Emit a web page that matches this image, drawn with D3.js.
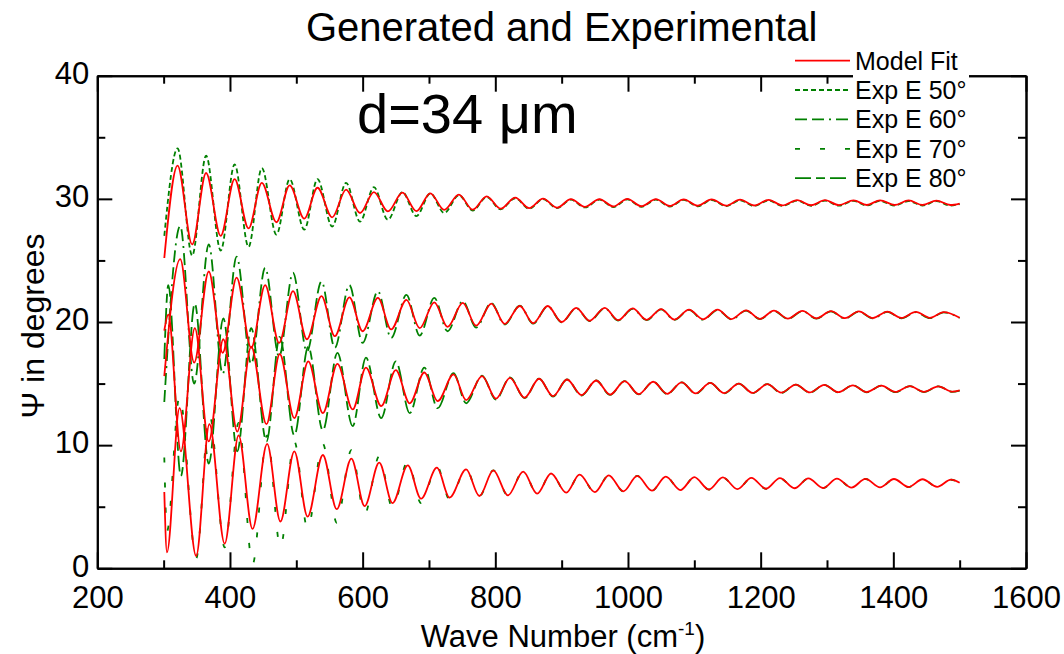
<!DOCTYPE html>
<html><head><meta charset="utf-8">
<script src="https://cdn.jsdelivr.net/npm/d3@7"></script>
<style>
body{margin:0;background:#fff}
svg{display:block}
text{font-family:"Liberation Sans",Arial,Helvetica,sans-serif;fill:#000}
</style>
</head><body>
<svg id="chart" width="1064" height="654"></svg>
<script>
// ---------- data (extrema) ----------
const xMajorTicks = [200,400,600,800,1000,1200,1400,1600];
const xMinorTicks = [300,500,700,900,1100,1300,1500];
const yMajorTicks = [0,10,20,30,40];
const yMinorTicks = [5,15,25,35];
const seriesNames = ["Model Fit","Exp E 50°","Exp E 60°","Exp E 70°","Exp E 80°"];

// Curve A (top, Exp E 50°)
const waveA = [301,321,343,364,386,407,428,448,470,490,512,532,554,575,596,617,638,660,681,702,723,745,766,787,808,830,851,872,893,914,935,957,978,999,1020,1042,1063,1084,1105,1126,1148,1169,1190,1212,1233,1255,1276,1297,1318,1340,1360,1380,1402,1423,1444,1465,1486,1500];
const modelA = [25.2,32.7,26.3,32.1,27.0,31.6,27.6,31.3,28.1,31.1,28.4,30.9,28.5,30.75,28.85,30.55,28.98,30.5,29.0,30.45,29.1,30.35,29.12,30.2,29.2,30.1,29.25,30.02,29.28,29.97,29.35,29.98,29.38,30.0,29.4,29.98,29.42,29.96,29.44,29.95,29.45,29.93,29.46,29.92,29.47,29.9,29.48,29.9,29.49,29.88,29.5,29.88,29.5,29.87,29.5,29.86,29.5,29.62];
const expA = [27.0,34.1,25.4,33.5,25.8,32.8,26.1,32.5,27.1,31.6,27.5,31.6,27.75,31.3,28.15,30.95,28.3,30.55,28.6,30.45,28.85,30.3,29.05,30.15,29.15,30.05,29.2,29.98,29.25,29.93,29.3,29.93,29.33,29.95,29.36,29.93,29.38,29.91,29.4,29.9,29.41,29.88,29.42,29.87,29.43,29.85,29.44,29.85,29.45,29.83,29.46,29.83,29.46,29.82,29.46,29.81,29.46,29.58];

// Curve B (second, Exp E 60°)
const waveB = [301,325,346,368,389,410,432,453,474,495,516,538,558,580,600,623,643,666,686,708,728,751,771,794,814,837,857,879,900,922,942,965,985,1007,1028,1050,1070,1092,1113,1135,1156,1178,1199,1220,1241,1263,1284,1306,1327,1348,1369,1391,1412,1434,1455,1476,1500];
const modelB = [15.6,25.1,16.7,24.1,17.5,23.6,17.9,23.0,18.3,22.5,18.6,22.1,18.85,22.0,19.25,21.96,19.4,21.8,19.5,21.6,19.6,21.56,19.7,21.5,19.85,21.3,19.9,21.3,20.0,21.15,20.1,21.15,20.15,21.1,20.18,21.05,20.2,21.0,20.22,21.0,20.24,20.95,20.26,20.92,20.28,20.9,20.3,20.88,20.31,20.86,20.32,20.84,20.33,20.82,20.34,20.8,20.35];
const expB = [13.5,27.8,15.0,26.3,15.8,25.3,16.6,24.4,17.2,24.0,17.6,23.3,17.9,23.0,18.3,22.5,18.7,22.2,18.9,21.96,19.25,21.7,19.55,21.55,19.8,21.32,19.87,21.28,19.97,21.13,20.07,21.12,20.12,21.07,20.15,21.02,20.17,20.98,20.19,20.97,20.21,20.93,20.23,20.9,20.25,20.88,20.27,20.86,20.28,20.84,20.29,20.82,20.3,20.8,20.31,20.78,20.33];

// Curve C (third, Exp E 80°)
const waveC = [301,307,326,347,368,390,411,432,455,475,497,518,540,562,585,605,628,650,671,693,713,737,756,780,801,822,844,866,887,908,930,952,973,995,1016,1038,1059,1081,1102,1124,1145,1167,1188,1210,1231,1253,1274,1296,1317,1339,1360,1382,1403,1425,1446,1468,1489,1500];
const modelC = [19.3,20.6,9.5,19.5,10.3,18.6,11.1,18.0,11.7,17.4,12.2,16.8,12.6,16.6,12.9,16.3,13.17,16.1,13.4,15.9,13.57,15.74,13.65,15.6,13.77,15.47,13.85,15.39,13.98,15.33,14.06,15.25,14.1,15.2,14.14,15.15,14.17,15.1,14.2,15.05,14.22,15.0,14.24,14.95,14.26,14.92,14.28,14.9,14.3,14.86,14.31,14.83,14.32,14.8,14.33,14.78,14.34,14.45];
const expC = [17.0,23.0,7.5,21.5,8.5,20.3,9.5,19.5,10.3,18.8,10.8,18.0,11.2,17.5,11.55,17.1,12.2,16.8,12.6,16.3,13.0,15.85,13.4,15.65,13.7,15.5,13.82,15.4,13.95,15.33,14.03,15.25,14.08,15.2,14.12,15.15,14.15,15.1,14.18,15.05,14.2,15.0,14.22,14.95,14.24,14.92,14.26,14.9,14.28,14.86,14.29,14.83,14.3,14.8,14.31,14.78,14.32,14.43];

// Curve D (bottom, Exp E 70°)
const waveD = [301,305,324,349,369,392,413,434,456,476,497,517,540,561,583,603,625,645,668,688,712,731,756,776,797,819,842,863,884,907,927,950,971,993,1014,1036,1057,1079,1100,1122,1143,1165,1186,1208,1229,1251,1272,1294,1315,1337,1358,1380,1401,1423,1444,1466,1487,1500];
const modelD = [6.2,1.3,13.0,1.0,11.7,2.0,10.8,3.2,10.1,3.8,9.5,4.2,9.2,4.8,8.9,5.05,8.58,5.3,8.36,5.65,8.17,5.74,8.03,5.87,7.95,5.92,7.85,6.06,7.7,6.14,7.6,6.19,7.55,6.25,7.5,6.3,7.45,6.35,7.4,6.4,7.38,6.43,7.35,6.46,7.33,6.5,7.3,6.52,7.28,6.55,7.26,6.57,7.25,6.6,7.23,6.62,7.2,6.95];
const expD = [9.0,3.0,14.0,0.8,12.5,1.7,11.8,0.3,10.8,1.7,10.3,3.2,10.1,3.7,9.6,4.4,9.1,4.9,8.7,5.3,8.3,5.6,8.05,5.85,7.95,5.92,7.85,6.05,7.7,6.13,7.6,6.18,7.55,6.24,7.5,6.29,7.45,6.34,7.4,6.39,7.37,6.42,7.34,6.45,7.32,6.49,7.29,6.51,7.27,6.54,7.25,6.56,7.24,6.59,7.22,6.61,7.19,6.92];

// ---------- layout ----------
const plot = {left: 97.3, right: 1026, top: 75.7, bottom: 568.3};
const svg = d3.select("#chart");

const x = d3.scaleLinear().domain([200,1600]).range([plot.left, plot.right]);
const y = d3.scaleLinear().domain([0,40]).range([plot.bottom, plot.top]);

const RED = "#ff0000", GREEN = "#008000";
const dashes = {
  "Exp E 50°": "5,3",
  "Exp E 60°": "12,5,12,5,2,5",
  "Exp E 70°": "5,20",
  "Exp E 80°": "16,5,9,5"
};

const line = d3.line().x(d => x(d[0])).y(d => y(d[1])).curve(d3.curveMonotoneX);

const expSeries = [
  {name:"Exp E 50°", w:waveA, v:expA},
  {name:"Exp E 60°", w:waveB, v:expB},
  {name:"Exp E 80°", w:waveC, v:expC},
  {name:"Exp E 70°", w:waveD, v:expD}
];
const modelSeries = [
  {w:waveA, v:modelA},{w:waveB, v:modelB},{w:waveC, v:modelC},{w:waveD, v:modelD}
];

const gData = svg.append("g");
expSeries.forEach(s => {
  gData.append("path")
    .attr("d", line(d3.zip(s.w, s.v)))
    .attr("fill","none").attr("stroke",GREEN).attr("stroke-width",1.8)
    .attr("stroke-dasharray", dashes[s.name]);
});
modelSeries.forEach(s => {
  gData.append("path")
    .attr("d", line(d3.zip(s.w, s.v)))
    .attr("fill","none").attr("stroke",RED).attr("stroke-width",1.8);
});

// ---------- axes ----------
function styleAxis(g){
  g.attr("font-family",'"Liberation Sans",Arial,sans-serif').attr("font-size",31);
  g.selectAll("path.domain").attr("stroke","#000").attr("stroke-width",2);
  g.selectAll(".tick line").attr("stroke","#000").attr("stroke-width",2);
  g.selectAll(".tick text").attr("fill","#000");
}
// bottom
svg.append("g").attr("transform",`translate(0,${plot.bottom})`)
  .call(d3.axisBottom(x).tickValues(xMajorTicks).tickSizeInner(-16).tickSizeOuter(0).tickPadding(18).tickFormat(d3.format("d")))
  .call(styleAxis);
svg.append("g").attr("transform",`translate(0,${plot.bottom})`)
  .call(d3.axisBottom(x).tickValues(xMinorTicks).tickSizeInner(-8).tickSizeOuter(0).tickFormat(""))
  .call(styleAxis);
// top
svg.append("g").attr("transform",`translate(0,${plot.top})`)
  .call(d3.axisTop(x).tickValues(xMajorTicks).tickSizeInner(-16).tickSizeOuter(0).tickFormat(""))
  .call(styleAxis);
svg.append("g").attr("transform",`translate(0,${plot.top})`)
  .call(d3.axisTop(x).tickValues(xMinorTicks).tickSizeInner(-8).tickSizeOuter(0).tickFormat(""))
  .call(styleAxis);
// left
const yAxisG = svg.append("g").attr("transform",`translate(${plot.left},0)`)
  .call(d3.axisLeft(y).tickValues(yMajorTicks).tickSizeInner(-15).tickSizeOuter(0).tickPadding(8).tickFormat(d3.format("d")))
  .call(styleAxis);
yAxisG.selectAll(".tick text").attr("dy","0.25em");
svg.append("g").attr("transform",`translate(${plot.left},0)`)
  .call(d3.axisLeft(y).tickValues(yMinorTicks).tickSizeInner(-8).tickSizeOuter(0).tickFormat(""))
  .call(styleAxis);
// right
svg.append("g").attr("transform",`translate(${plot.right},0)`)
  .call(d3.axisRight(y).tickValues(yMajorTicks).tickSizeInner(-15).tickSizeOuter(0).tickFormat(""))
  .call(styleAxis);
svg.append("g").attr("transform",`translate(${plot.right},0)`)
  .call(d3.axisRight(y).tickValues(yMinorTicks).tickSizeInner(-8).tickSizeOuter(0).tickFormat(""))
  .call(styleAxis);

// ---------- titles ----------
svg.append("text").attr("x",(plot.left+plot.right)/2).attr("y",41)
  .attr("text-anchor","middle").attr("font-size",40).text("Generated and Experimental");

svg.append("text").attr("x",357).attr("y",133).attr("font-size",56).text("d=34 μm");

const xt = svg.append("text").attr("x",563).attr("y",647)
  .attr("text-anchor","middle").attr("font-size",31);
xt.append("tspan").text("Wave Number (cm");
xt.append("tspan").attr("font-size",19).attr("dy",-12).text("-1");
xt.append("tspan").attr("dy",12).text(")");

svg.append("text").attr("transform","translate(44,326) rotate(-90)")
  .attr("text-anchor","middle").attr("font-size",32).text("Ψ in degrees");

// ---------- legend ----------
const legend = svg.append("g");
seriesNames.forEach((name,i) => {
  const base = 69.6 + i*29.4;
  const ly = base - 9;
  legend.append("rect").attr("x",853).attr("y",base-22).attr("width",116).attr("height",29.6).attr("fill","#fff");
  legend.append("line").attr("x1",795).attr("x2",850).attr("y1",ly).attr("y2",ly)
    .attr("stroke", i===0 ? RED : GREEN).attr("stroke-width",1.8)
    .attr("stroke-dasharray", i===0 ? null : dashes[name]);
  legend.append("text").attr("x",855).attr("y",base).attr("font-size",25).text(name);
});
</script>
</body></html>
